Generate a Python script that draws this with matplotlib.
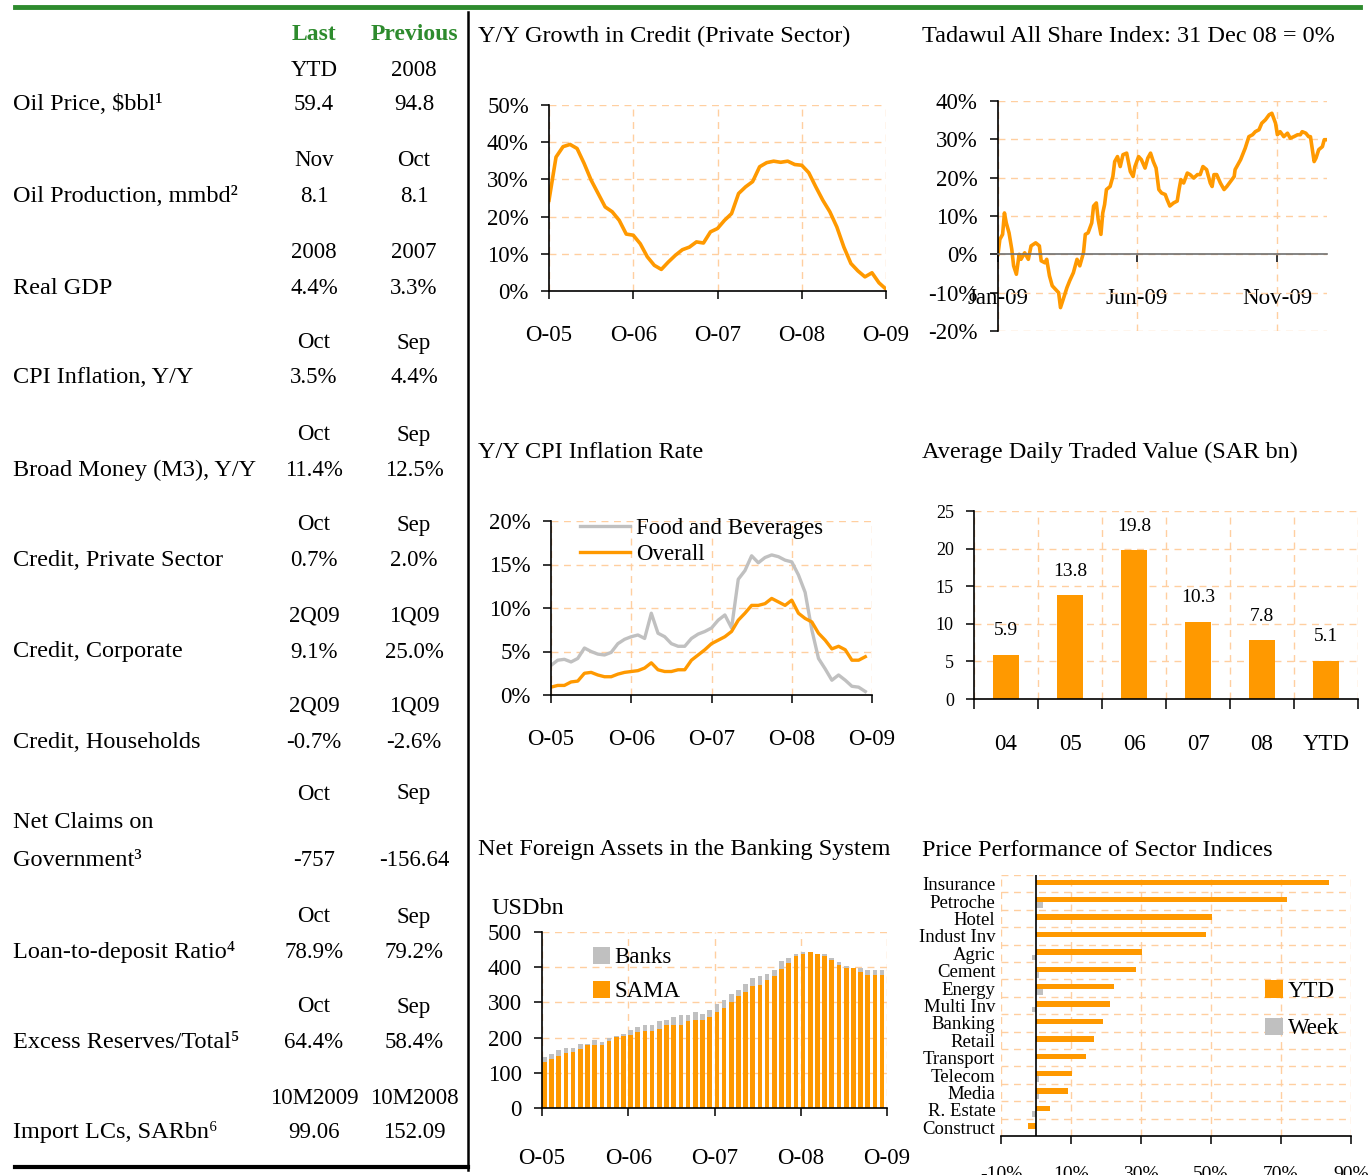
import numpy as np
import matplotlib
matplotlib.use('Agg')
import matplotlib.pyplot as plt
from matplotlib.lines import Line2D

plt.rcParams['font.family'] = ['Liberation Serif', 'DejaVu Serif']

# ---------------- data ----------------
# left table
row_labels = ['Oil Price, $bbl¹', 'Oil Production, mmbd²', 'Real GDP', 'CPI Inflation, Y/Y',
              'Broad Money (M3), Y/Y', 'Credit, Private Sector', 'Credit, Corporate',
              'Credit, Households', 'Government³', 'Loan-to-deposit Ratio⁴',
              'Excess Reserves/Total⁵', 'Import LCs, SARbn⁶']
last_period = ['YTD', 'Nov', '2008', 'Oct', 'Oct', 'Oct', '2Q09', '2Q09', 'Oct', 'Oct', 'Oct', '10M2009']
prev_period = ['2008', 'Oct', '2007', 'Sep', 'Sep', 'Sep', '1Q09', '1Q09', 'Sep', 'Sep', 'Sep', '10M2008']
last_value = ['59.4', '8.1', '4.4%', '3.5%', '11.4%', '0.7%', '9.1%', '-0.7%', '-757', '78.9%', '64.4%', '99.06']
prev_value = ['94.8', '8.1', '3.3%', '4.4%', '12.5%', '2.0%', '25.0%', '-2.6%', '-156.64', '79.2%', '58.4%', '152.09']

# Y/Y growth in private sector credit, monthly Oct-05 .. Oct-09 (%)
credit = [24.4, 36.0, 38.8, 39.4, 38.3, 34.3, 29.8, 26.2, 22.6, 21.3, 19.0, 15.3,
          15.0, 12.7, 9.2, 6.9, 5.8, 7.8, 9.6, 11.1, 11.8, 13.2, 12.9, 15.9,
          16.8, 19.0, 20.8, 26.2, 28.0, 29.4, 33.4, 34.5, 34.9, 34.6, 34.9, 34.0,
          33.8, 31.8, 28.0, 24.4, 21.3, 17.2, 11.8, 7.4, 5.4, 3.8, 4.9, 2.2, 0.5]
credit_ticks = ['O-05', 'O-06', 'O-07', 'O-08', 'O-09']

# Tadawul All Share Index, days since 31 Dec 08 and % change
tasi_day = [0, 2, 5, 7, 9, 12, 15, 17, 20, 23, 25, 29, 33, 36, 41, 45, 47, 51, 53, 56,
            59, 64, 66, 68, 71, 75, 78, 82, 86, 89, 93, 95, 98, 102, 104, 107, 109, 112, 114, 116,
            118, 122, 125, 127, 130, 133, 136, 140, 144, 147, 149, 153, 156, 160, 163, 166, 169, 172, 175, 178,
            182, 184, 187, 191, 195, 197, 199, 202, 206, 209, 213, 217, 220, 223, 227, 231, 233, 235, 238, 242,
            246, 249, 253, 257, 258, 264, 269, 273, 277, 280, 284, 287, 291, 295, 298, 302, 304, 307, 311, 315,
            318, 322, 326, 329, 331, 335, 338, 340, 344, 346, 349, 353, 355, 358]
tasi_val = [0.0, 3.9, 5.2, 10.8, 8.2, 5.6, 1.3, -3.0, -5.2, 0.0, -1.3, 0.4, -1.3, 2.2, 3.0, 2.2, -1.7, -2.2, -1.3, -5.6,
            -8.2, -9.5, -10.0, -13.9, -11.7, -8.7, -6.9, -4.8, -1.3, -3.0, 0.4, 5.2, 5.6, 8.2, 12.6, 13.4, 9.1, 5.2, 10.8, 13.0,
            16.9, 17.7, 20.3, 24.2, 25.5, 22.9, 26.0, 26.4, 21.6, 20.3, 22.9, 25.5, 24.7, 22.5, 25.1, 26.4, 24.2, 22.5, 16.9, 16.0,
            15.6, 14.3, 12.6, 13.4, 13.9, 16.9, 19.5, 18.6, 21.2, 20.8, 19.9, 20.8, 20.8, 22.9, 22.1, 18.6, 17.7, 20.8, 20.8, 18.6,
            16.9, 17.7, 19.0, 20.3, 22.1, 24.7, 27.7, 30.7, 31.2, 32.0, 32.5, 34.2, 35.1, 36.4, 36.8, 34.2, 31.2, 32.0, 30.7, 31.6,
            30.3, 30.7, 31.2, 31.2, 32.0, 31.6, 30.7, 30.7, 24.2, 25.1, 27.3, 28.1, 29.9, 29.9]
tasi_tick_day = [0, 151, 304]
tasi_ticks = ['Jan-09', 'Jun-09', 'Nov-09']

# Y/Y CPI inflation, monthly Oct-05 .. Sep-09 (%)
cpi_food = [3.4, 4.0, 4.1, 3.8, 4.2, 5.4, 5.0, 4.7, 4.6, 4.9, 5.9, 6.4,
            6.7, 6.9, 6.5, 9.4, 7.1, 6.7, 5.9, 5.6, 5.6, 6.5, 7.0, 7.3,
            7.7, 8.6, 9.2, 7.7, 13.3, 14.3, 16.0, 15.2, 15.8, 16.1, 15.9, 15.5,
            15.3, 13.8, 11.8, 7.5, 4.2, 3.0, 1.7, 2.3, 1.7, 1.0, 0.9, 0.4]
cpi_overall = [0.9, 1.1, 1.1, 1.5, 1.6, 2.5, 2.6, 2.3, 2.1, 2.1, 2.4, 2.6,
               2.7, 2.8, 3.1, 3.7, 2.9, 2.7, 2.7, 2.9, 2.9, 4.0, 4.6, 5.2,
               5.9, 6.3, 6.7, 7.3, 8.6, 9.4, 10.3, 10.3, 10.5, 11.1, 10.7, 10.3,
               10.9, 9.4, 8.8, 8.4, 7.1, 6.3, 5.3, 5.6, 5.2, 4.0, 4.0, 4.4]

# average daily traded value (SAR bn)
adtv_years = ['04', '05', '06', '07', '08', 'YTD']
adtv = [5.9, 13.8, 19.8, 10.3, 7.8, 5.1]

# net foreign assets, monthly Oct-05 .. Oct-09 (USD bn)
nfa_sama = [130, 140, 147, 156, 158, 169, 178, 180, 180, 191, 201, 204,
            208, 215, 220, 220, 225, 235, 237, 237, 246, 249, 249, 258,
            272, 283, 300, 317, 329, 346, 350, 363, 374, 395, 412, 431,
            438, 444, 438, 431, 420, 407, 397, 398, 385, 379, 379, 379, 385]
nfa_banks = [14, 14, 19, 15, 13, 14, 5, 14, 7, 9, 4, 7,
             14, 14, 15, 15, 21, 16, 21, 26, 17, 25, 19, 21,
             24, 24, 24, 19, 24, 23, 26, 18, 19, 22, 14, 7,
             6, 0, 0, 7, 6, 9, 7, 0, 14, 14, 14, 14, 25]

# price performance of sector indices (%)
sectors = ['Insurance', 'Petroche', 'Hotel', 'Indust Inv', 'Agric', 'Cement', 'Energy', 'Multi Inv',
           'Banking', 'Retail', 'Transport', 'Telecom', 'Media', 'R. Estate', 'Construct']
sector_ytd = [83.6, 71.6, 50.4, 48.7, 30.4, 28.7, 22.4, 21.2, 19.0, 16.7, 14.4, 10.4, 9.2, 4.1, -2.4]
sector_week = [0.0, 1.9, 0.0, 0.0, -1.2, 0.8, 1.9, -1.2, 0.0, 0.0, 0.0, 0.8, 0.8, -1.2, 0.0]

# ---------------- style ----------------
W, H = 1371, 1175
ORANGE = '#FF9900'
GREY = '#C0C0C0'
GRID = '#FFCFA0'
GREEN = '#2E8B2E'
FS = 16.5
TFS = 17.5  # titles and table labels

fig = plt.figure(figsize=(W / 100, H / 100), dpi=100)


def axes_px(x0, y0, x1, y1):
    return fig.add_axes([x0 / W, 1 - y1 / H, (x1 - x0) / W, (y1 - y0) / H])


def style(ax, xpad=19, ylabelsize=FS):
    for s in ['top', 'right']:
        ax.spines[s].set_visible(False)
    for s in ['left', 'bottom']:
        ax.spines[s].set_linewidth(1.2)
    ax.tick_params(axis='both', direction='out', length=5.5, width=1.1, labelsize=FS)
    ax.tick_params(axis='x', pad=xpad)
    ax.tick_params(axis='y', pad=9, labelsize=ylabelsize)
    ax.grid(True, color=GRID, linestyle=(0, (5, 4)), linewidth=1)
    ax.set_axisbelow(True)


def figtext(x, y, s, **kw):
    kw.setdefault('fontsize', FS)
    fig.text(x / W, 1 - (y + 2) / H, s, **kw)


# ---------------- left table ----------------
period_y = [68, 159, 251, 341, 433, 523, 614, 704, 792, 915, 1005, 1096]
value_y = [103, 194, 286, 376, 468, 558, 650, 740, 858, 950, 1040, 1130]

figtext(314, 33, 'Last', color=GREEN, fontweight='bold', ha='center', va='center', fontsize=17)
figtext(414, 33, 'Previous', color=GREEN, fontweight='bold', ha='center', va='center', fontsize=17)
for i in range(len(row_labels)):
    figtext(13, value_y[i], row_labels[i], ha='left', va='center', fontsize=TFS)
    figtext(314, period_y[i], last_period[i], ha='center', va='center')
    figtext(414, period_y[i], prev_period[i], ha='center', va='center')
    figtext(314, value_y[i], last_value[i], ha='center', va='center')
    figtext(414, value_y[i], prev_value[i], ha='center', va='center')
figtext(13, 820, 'Net Claims on', ha='left', va='center', fontsize=TFS)

fig.add_artist(Line2D([15 / W, 1360 / W], [1 - 7 / H] * 2, color=GREEN, lw=3.5))
fig.add_artist(Line2D([468 / W] * 2, [1 - 12 / H, 1 - 1170 / H], color='black', lw=1.8))
fig.add_artist(Line2D([15 / W, 468 / W], [1 - 1167 / H] * 2, color='black', lw=3))

# ---------------- panel titles ----------------
figtext(478, 34, 'Y/Y Growth in Credit (Private Sector)', ha='left', va='center', fontsize=TFS)
figtext(922, 34, 'Tadawul All Share Index: 31 Dec 08 = 0%', ha='left', va='center', fontsize=TFS)
figtext(478, 450, 'Y/Y CPI Inflation Rate', ha='left', va='center', fontsize=TFS)
figtext(922, 450, 'Average Daily Traded Value (SAR bn)', ha='left', va='center', fontsize=TFS)
figtext(478, 848, 'Net Foreign Assets in the Banking System', ha='left', va='center', fontsize=TFS)
figtext(922, 848, 'Price Performance of Sector Indices', ha='left', va='center', fontsize=TFS)

# ---------------- credit growth ----------------
ax = axes_px(549, 105, 886, 291)
style(ax)
ax.plot(np.arange(len(credit)), credit, color=ORANGE, lw=2.6)
ax.set_xlim(0, 48)
ax.set_ylim(0, 50)
ax.set_xticks([0, 12, 24, 36, 48])
ax.set_xticklabels(credit_ticks)
ax.set_yticks(range(0, 51, 10))
ax.set_yticklabels([f'{v}%' for v in range(0, 51, 10)])

# ---------------- Tadawul ----------------
ax = axes_px(998, 101, 1327, 331)
style(ax)
ax.plot(tasi_day, tasi_val, color=ORANGE, lw=2.6)
ax.spines['bottom'].set_position(('data', 0))
ax.spines['bottom'].set_color('#707070')
ax.set_xlim(0, 358)
ax.set_ylim(-20, 40)
ax.set_xticks(tasi_tick_day)
ax.set_xticklabels(tasi_ticks)
ax.set_yticks(range(-20, 41, 10))
ax.set_yticklabels([f'{v}%' for v in range(-20, 41, 10)])

# ---------------- CPI ----------------
ax = axes_px(551, 521, 872, 695)
style(ax)
ax.plot(np.arange(len(cpi_food)), cpi_food, color=GREY, lw=2.4, label='Food and Beverages')
ax.plot(np.arange(len(cpi_overall)), cpi_overall, color=ORANGE, lw=2.4, label='Overall')
ax.set_xlim(0, 48)
ax.set_ylim(0, 20)
ax.set_xticks([0, 12, 24, 36, 48])
ax.set_xticklabels(credit_ticks)
ax.set_yticks(range(0, 21, 5))
ax.set_yticklabels([f'{v}%' for v in range(0, 21, 5)])
ax.legend(loc='upper left', bbox_to_anchor=(580 / W, 1 - 518 / H), bbox_transform=fig.transFigure,
          frameon=False, fontsize=16.5, borderpad=0, borderaxespad=0, handlelength=2.2,
          handletextpad=0.25, labelspacing=0.2)

# ---------------- average daily traded value ----------------
ax = axes_px(974, 511, 1358, 699)
style(ax, ylabelsize=13)
bars = ax.bar(np.arange(len(adtv)) + 0.5, adtv, width=0.41, color=ORANGE)
ax.bar_label(bars, labels=[f'{v}' for v in adtv], padding=11, fontsize=14)
ax.set_xlim(0, 6)
ax.set_ylim(0, 25)
ax.set_xticks(range(7))
ax.set_xticklabels([])
ax.set_xticks(np.arange(6) + 0.5, minor=True)
ax.set_xticklabels(adtv_years, minor=True)
ax.tick_params(axis='x', which='minor', length=0, pad=25, labelsize=FS)
ax.tick_params(axis='x', which='major', length=7)
ax.set_yticks(range(0, 26, 5))

# ---------------- net foreign assets ----------------
ax = axes_px(542, 932, 887, 1108)
style(ax, xpad=23)
x = np.arange(len(nfa_sama))
b_sama = ax.bar(x, nfa_sama, width=0.65, align='edge', color=ORANGE)
b_banks = ax.bar(x, nfa_banks, bottom=nfa_sama, width=0.65, align='edge', color=GREY)
ax.set_xlim(0, 48)
ax.set_ylim(0, 500)
ax.set_xticks([0, 12, 24, 36, 48])
ax.set_xticklabels(credit_ticks)
ax.set_yticks(range(0, 501, 100))
ax.legend([b_banks, b_sama], ['Banks', 'SAMA'], loc='upper left',
          bbox_to_anchor=(593 / W, 1 - 947 / H), bbox_transform=fig.transFigure,
          frameon=False, fontsize=16.5, borderpad=0, borderaxespad=0,
          handlelength=0.75, handleheight=0.75, handletextpad=0.2, labelspacing=0.55)
figtext(492, 907, 'USDbn', ha='left', va='center', fontsize=TFS)

# ---------------- sector indices ----------------
ax = axes_px(1001, 875, 1351, 1136)
style(ax, xpad=16)
yy = np.arange(len(sectors))
b_ytd = ax.barh(yy + 0.42, sector_ytd, height=0.32, color=ORANGE)
b_week = ax.barh(yy + 0.74, sector_week, height=0.32, color=GREY)
ax.axvline(0, color='black', lw=1.2)
ax.spines['left'].set_visible(False)
ax.set_xlim(-10, 90)
ax.set_ylim(15, 0)
ax.set_xticks(range(-10, 91, 20))
ax.set_xticklabels([f'{v}%' for v in range(-10, 91, 20)])
ax.tick_params(axis='x', labelsize=14)
ax.set_yticks(range(16))
ax.set_yticklabels([])
ax.set_yticks(yy + 0.5, minor=True)
ax.set_yticklabels(sectors, minor=True)
ax.tick_params(axis='y', which='both', length=0)
ax.tick_params(axis='y', which='minor', pad=4, labelsize=13.5)
ax.legend([b_ytd, b_week], ['YTD', 'Week'], loc='upper left',
          bbox_to_anchor=(1265 / W, 1 - 980 / H), bbox_transform=fig.transFigure,
          frameon=False, fontsize=16.5, borderpad=0, borderaxespad=0,
          handlelength=0.8, handleheight=0.8, handletextpad=0.2, labelspacing=0.7)

fig.savefig('out.png', dpi=100)
